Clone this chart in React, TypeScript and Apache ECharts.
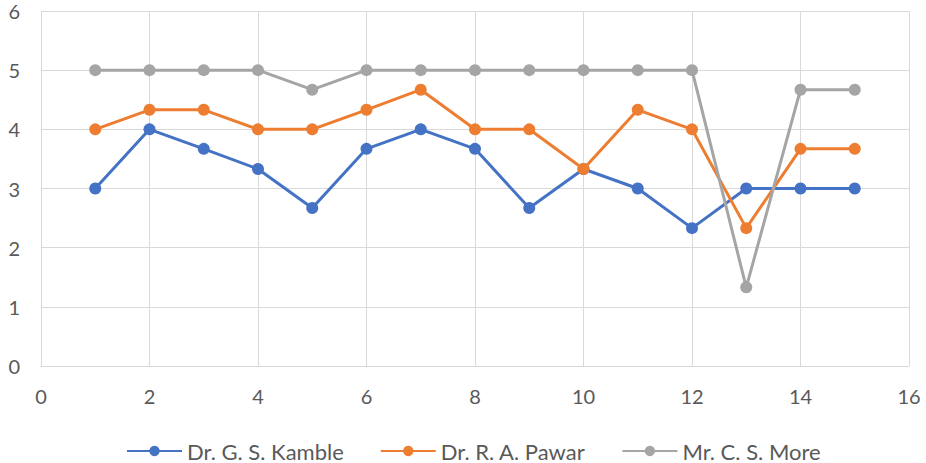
import React, { useEffect, useRef } from "react";
import * as echarts from "echarts";

const xValues = [1, 2, 3, 4, 5, 6, 7, 8, 9, 10, 11, 12, 13, 14, 15];
const kamble = [3, 4, 3.67, 3.33, 2.67, 3.67, 4, 3.67, 2.67, 3.33, 3, 2.33, 3, 3, 3];
const pawar = [4, 4.33, 4.33, 4, 4, 4.33, 4.67, 4, 4, 3.33, 4.33, 4, 2.33, 3.67, 3.67];
const more = [5, 5, 5, 5, 4.67, 5, 5, 5, 5, 5, 5, 5, 1.33, 4.67, 4.67];
const seriesNames = ["Dr. G. S. Kamble", "Dr. R. A. Pawar", "Mr. C. S. More"];
const colors = ["#4472C4", "#ED7D31", "#A5A5A5"];

export default function App() {
  const ref = useRef<HTMLDivElement>(null);
  useEffect(() => {
    const chart = echarts.init(ref.current!, null, { renderer: "svg" });
    const datasets = [kamble, pawar, more];
    chart.setOption({
      animation: false,
      textStyle: { fontFamily: "Lato" },
      grid: { left: 41, right: 17, top: 11, bottom: 97 },
      xAxis: {
        type: "value",
        min: 0,
        max: 16,
        interval: 2,
        axisLine: { show: true, lineStyle: { color: "#d9d9d9", width: 1 } },
        axisTick: { show: false },
        splitLine: { show: true, lineStyle: { color: "#d9d9d9", width: 1 } },
        axisLabel: { color: "#595959", fontSize: 20, margin: 20, fontFamily: "Lato" },
      },
      yAxis: {
        type: "value",
        min: 0,
        max: 6,
        interval: 1,
        axisLine: { show: true, lineStyle: { color: "#d9d9d9", width: 1 } },
        axisTick: { show: false },
        splitLine: { show: true, lineStyle: { color: "#d9d9d9", width: 1 } },
        axisLabel: { color: "#595959", fontSize: 20, margin: 21, fontFamily: "Lato" },
      },
      legend: {
        top: 433,
        left: 121,
        itemWidth: 55,
        itemHeight: 13,
        itemGap: 36,
        textStyle: { color: "#595959", fontSize: 22, fontFamily: "Lato", lineHeight: 26 },
        data: seriesNames,
      },
      series: datasets.map((d, i) => ({
        name: seriesNames[i],
        type: "line",
        data: d.map((v, j) => [xValues[j], v]),
        color: colors[i],
        lineStyle: { width: 3, color: colors[i] },
        itemStyle: { color: colors[i] },
        symbol: "circle",
        symbolSize: 12,
        z: 2 + i,
      })),
    });
    return () => chart.dispose();
  }, []);
  return (
    <div
      ref={ref}
      style={{ position: "absolute", left: 0, top: 0, width: 926, height: 463 }}
    />
  );
}
